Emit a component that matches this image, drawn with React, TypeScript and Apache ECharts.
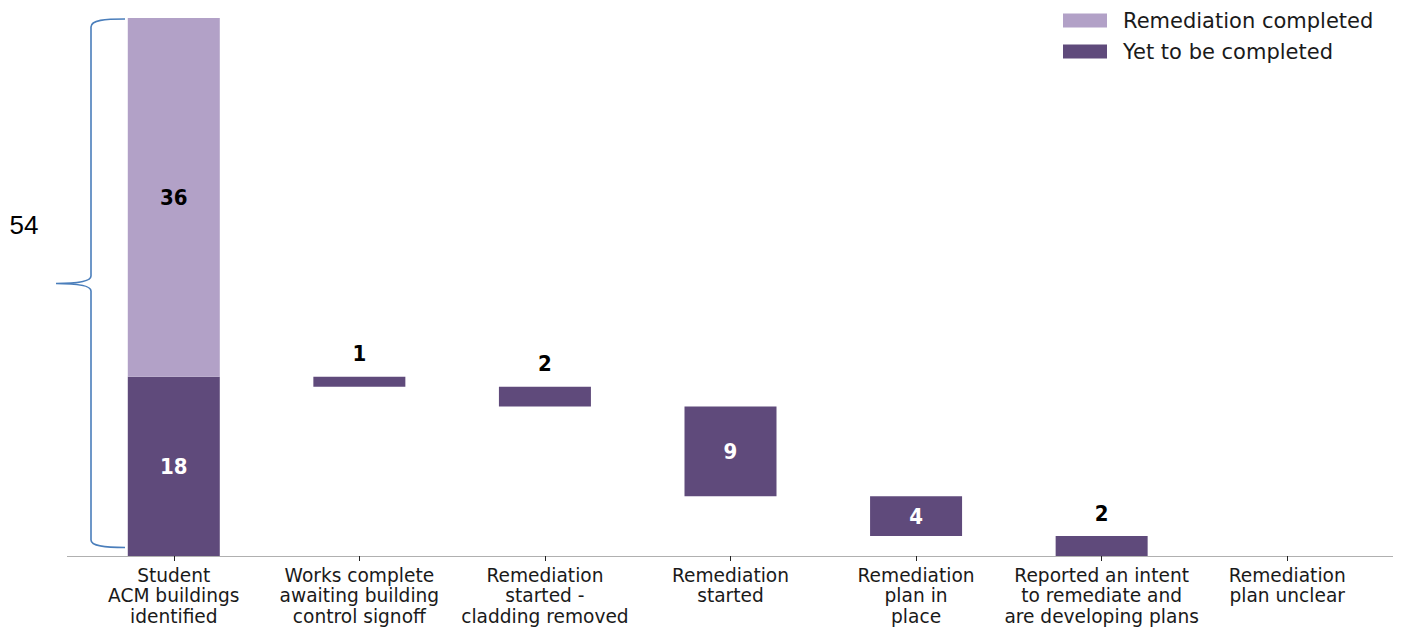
import React, { useEffect, useRef } from "react";
import * as echarts from "echarts";

const categories = [
  "Student\nACM buildings\nidentified",
  "Works complete\nawaiting building\ncontrol signoff",
  "Remediation\nstarted -\ncladding removed",
  "Remediation\nstarted",
  "Remediation\nplan in\nplace",
  "Reported an intent\nto remediate and\nare developing plans",
  "Remediation\nplan unclear",
];
const completedValues = [36, null, null, null, null, null, null];
const yetValues = [18, 1, 2, 9, 4, 2, 0];
const totalLabel = "54";

const LIGHT = "#b2a1c7";
const DARK = "#5f4a7b";

const BRACE =
  "M125,19 C105,19 91,20 91,27 L91,276 C91,281 80,283.5 56,283.5 C80,283.5 91,286 91,291 L91,540 C91,546 105,547.5 125,547.5";

export default function App() {
  const ref = useRef<HTMLDivElement>(null);
  useEffect(() => {
    if (!ref.current) return;
    try {
      echarts.graphic.registerShape("brace", echarts.graphic.extendPath(BRACE, {}));
    } catch (e) {}
    const chart = echarts.init(ref.current, null, { renderer: "svg" });

    // waterfall base: remaining buildings after each stage
    let remaining = yetValues[0];
    const baseValues = yetValues.map((v, i) => {
      if (i === 0) return 0;
      remaining -= v;
      return remaining;
    });

    const labelFont = "'Liberation Sans Narrow', 'DejaVu Sans Condensed', sans-serif";
    const yetData = yetValues.map((v, i) => {
      const outside = v < 3;
      return {
        value: v,
        label: {
          show: v > 0,
          position: outside ? "top" : "inside",
          distance: 12,
          color: outside ? "#000" : "#fff",
          fontWeight: "bold",
          fontSize: 22,
          fontFamily: labelFont,
        },
      };
    });

    chart.setOption({
      animation: false,
      grid: { left: 81, right: 22, top: 18, bottom: 72 },
      legend: {
        orient: "vertical",
        left: 1063,
        top: 10,
        padding: 0,
        itemWidth: 44,
        itemHeight: 14,
        itemGap: 10,
        icon: "rect",
        data: ["Remediation completed", "Yet to be completed"],
        textStyle: {
          fontSize: 21,
          fontFamily: "'DejaVu Sans', sans-serif",
          color: "#1a1a1a",
          padding: [0, 0, 0, 11],
        },
      },
      xAxis: {
        type: "category",
        data: categories,
        axisLine: { show: false },
        axisTick: {
          show: true,
          alignWithLabel: true,
          length: 5,
          lineStyle: { color: "#222" },
        },
        axisLabel: {
          interval: 0,
          margin: 9,
          fontSize: 18.6,
          lineHeight: 20.5,
          fontFamily: "'DejaVu Sans', sans-serif",
          color: "#1a1a1a",
        },
      },
      yAxis: {
        type: "value",
        min: 0,
        max: 54,
        show: false,
        splitLine: { show: false },
      },
      series: [
        {
          name: "base",
          type: "bar",
          stack: "total",
          barWidth: 92,
          itemStyle: { color: "transparent" },
          silent: true,
          data: baseValues,
        },
        {
          name: "Yet to be completed",
          type: "bar",
          stack: "total",
          barWidth: 92,
          itemStyle: { color: DARK },
          data: yetData,
        },
        {
          name: "Remediation completed",
          type: "bar",
          stack: "total",
          barWidth: 92,
          itemStyle: { color: LIGHT },
          label: {
            show: true,
            position: "inside",
            color: "#000",
            fontWeight: "bold",
            fontSize: 22,
            fontFamily: labelFont,
          },
          data: completedValues,
        },
      ],
      graphic: [
        {
          type: "line",
          shape: { x1: 67, y1: 556.5, x2: 1393, y2: 556.5 },
          style: { stroke: "#b0b0b0", lineWidth: 1.2 },
          silent: true,
        },
        {
          type: "brace",
          x: 0,
          y: 0,
          style: { stroke: "#4a7ebb", lineWidth: 1.6, fill: null },
          silent: true,
        },
        {
          type: "text",
          x: 24,
          y: 225,
          style: {
            text: totalLabel,
            fontSize: 26,
            fontFamily: "'Liberation Sans', Arial, sans-serif",
            fill: "#000",
            align: "center",
            verticalAlign: "middle",
          },
          silent: true,
        },
      ],
    });
    return () => chart.dispose();
  }, []);
  return (
    <div
      ref={ref}
      style={{ position: "fixed", left: 0, top: 0, width: 1402, height: 628, background: "#fff" }}
    />
  );
}
